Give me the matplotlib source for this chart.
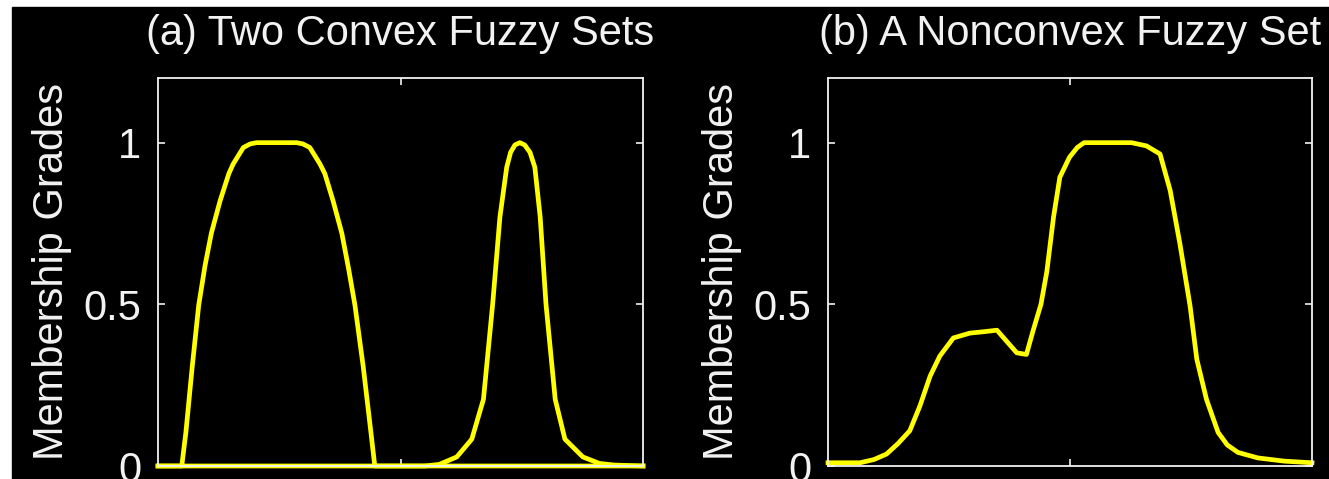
import matplotlib
matplotlib.use("Agg")
import matplotlib.pyplot as plt
from matplotlib.patches import Rectangle

# (a) two convex fuzzy sets
xa1 = [0, 4.9, 5.75, 7.07, 8.4, 9.7, 11.0, 12.8, 14.6, 15.5, 17.6, 19.0, 20.3,
       28.6, 29.9, 31.3, 33.4, 34.4, 36.1, 37.9, 39.3, 40.6, 42.3, 43.9, 44.7, 100]
ya1 = [0, 0, 0.104, 0.309, 0.498, 0.62, 0.72, 0.82, 0.904, 0.934, 0.985, 0.996, 1,
       1, 0.996, 0.985, 0.934, 0.904, 0.82, 0.72, 0.61, 0.498, 0.309, 0.104, 0, 0]

xa2 = [0, 55, 58, 61.6, 64.7, 67.1, 69.0, 70.5, 71.9, 72.7, 73.6, 74.6,
       75.6, 76.7, 77.7, 78.8, 80.0, 81.9, 83.9, 87.6, 91, 94, 100]
ya2 = [0, 0, 0.005, 0.028, 0.083, 0.206, 0.5, 0.77, 0.924, 0.97, 0.993, 1.0,
       0.993, 0.97, 0.924, 0.77, 0.5, 0.206, 0.083, 0.028, 0.008, 0.003, 0]

# (b) a nonconvex fuzzy set
xb = [0, 6.6, 9.5, 12.1, 14.5, 16.9, 19.0, 21.1, 23.1, 25.9, 29.3, 32.0,
      34.9, 36.9, 39.0, 41.0, 42.4, 44.0, 45.2, 46.6, 47.9, 49.9, 51.5, 52.9,
      62.7, 65.8, 68.6, 70.7, 72.7, 74.8, 76.2, 78.2, 80.6, 82.5, 84.7, 88.8,
      94.3, 100]
yb = [0.01, 0.01, 0.02, 0.037, 0.07, 0.109, 0.186, 0.278, 0.34, 0.396, 0.411,
      0.415, 0.42, 0.386, 0.35, 0.345, 0.42, 0.5, 0.6, 0.77, 0.893, 0.955,
      0.985, 1, 1, 0.99, 0.965, 0.852, 0.688, 0.496, 0.33, 0.206, 0.104,
      0.065, 0.042, 0.025, 0.015, 0.01]

titles = ["(a) Two Convex Fuzzy Sets", "(b) A Nonconvex Fuzzy Set"]

plt.rcParams["font.family"] = ["Liberation Sans", "DejaVu Sans"]
W, H = 1329, 479
fig = plt.figure(figsize=(W / 100, H / 100), dpi=100, facecolor="white")
fig.patches.append(Rectangle((12 / W, 0), 1 - 12 / W, 1 - 7 / H,
                             transform=fig.transFigure, color="black", zorder=-1))

txt = "#f2f2f2"
lefts = [158, 828]
widths = [485, 484]
series = [[(xa1, ya1), (xa2, ya2)], [(xb, yb)]]

for i in range(2):
    ax = fig.add_axes([lefts[i] / W, 13 / H, widths[i] / W, 388 / H])
    ax.set_facecolor("black")
    for x, y in series[i]:
        ax.plot(x, y, color="#ffff00", lw=3.4, clip_on=False)
    ax.set_xlim(0, 100)
    ax.set_ylim(0, 1.2)
    ax.set_xticks([50])
    ax.set_xticklabels([])
    ax.set_yticks([0, 0.5, 1])
    ax.set_yticklabels(["0", "0.5", "1"])
    ax.tick_params(direction="in", length=5, width=1.2, colors=txt,
                   labelsize=30, pad=12, top=True, right=True)
    for s in ax.spines.values():
        s.set_color(txt)
        s.set_linewidth(1.3)
    ax.set_ylabel("Membership Grades", color=txt, fontsize=30)
    ax.yaxis.set_label_coords(-0.178, 0.5)
    ax.set_title(titles[i], color=txt, fontsize=30, pad=24)

fig.savefig("out.png", dpi=100, facecolor=fig.get_facecolor())
